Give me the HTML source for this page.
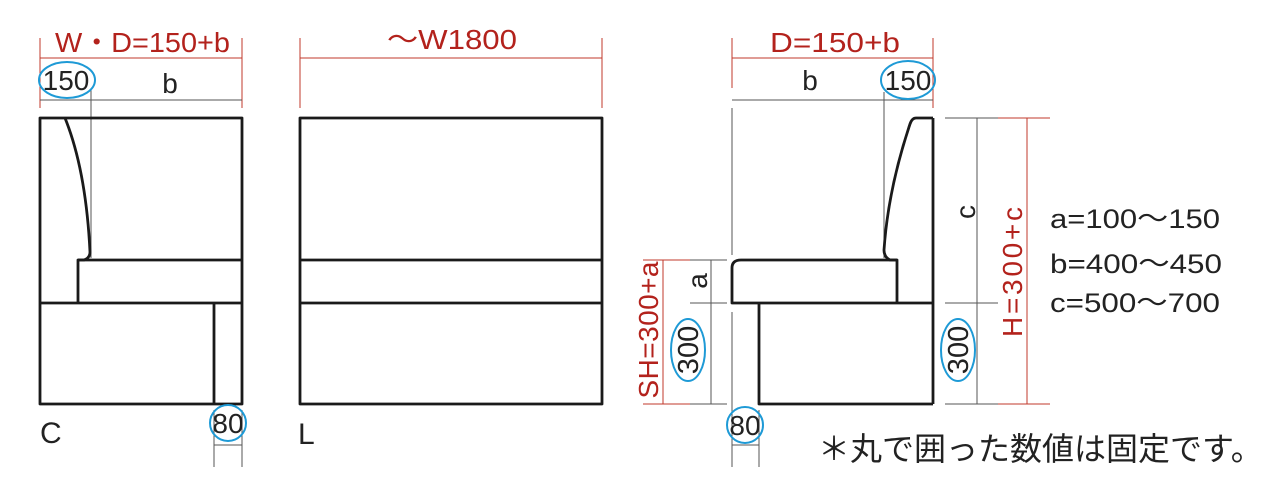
<!DOCTYPE html>
<html><head><meta charset="utf-8"><style>
html,body{margin:0;padding:0;background:#fff;width:1280px;height:492px;overflow:hidden}
svg{display:block}
text{font-family:"Liberation Sans",Arial,sans-serif}
</style></head><body>
<svg width="1280" height="492" viewBox="0 0 1280 492" xmlns="http://www.w3.org/2000/svg">
<g stroke="#c0392b" stroke-width="1" fill="none">
  <line x1="40" y1="58" x2="242" y2="58"/><line x1="40" y1="38" x2="40" y2="108"/><line x1="242" y1="38" x2="242" y2="108"/>
  <line x1="300" y1="58" x2="602" y2="58"/><line x1="300" y1="38" x2="300" y2="108"/><line x1="602" y1="38" x2="602" y2="108"/>
  <line x1="732" y1="58" x2="933" y2="58"/><line x1="732" y1="38" x2="732" y2="88"/><line x1="933" y1="38" x2="933" y2="108"/>
  <line x1="663" y1="260" x2="663" y2="404"/><line x1="643" y1="260" x2="690" y2="260"/><line x1="643" y1="404" x2="690" y2="404"/>
  <line x1="1027" y1="118" x2="1027" y2="404"/><line x1="998" y1="118" x2="1050" y2="118"/><line x1="998" y1="404" x2="1050" y2="404"/>
</g>
<g fill="#b3221c" font-size="28">
  <text x="55" y="52" textLength="175" lengthAdjust="spacingAndGlyphs">W・D=150+b</text>
  <text x="387" y="49" textLength="130" lengthAdjust="spacingAndGlyphs">〜W1800</text>
  <text x="770" y="52" textLength="130" lengthAdjust="spacingAndGlyphs">D=150+b</text>
  <text transform="translate(658,330) rotate(-90)" text-anchor="middle" textLength="137">SH=300+a</text>
  <text transform="translate(1022,272) rotate(-90)" text-anchor="middle" textLength="130">H=300+c</text>
</g>
<g stroke="#555" stroke-width="1" fill="none">
  <line x1="40" y1="100" x2="242" y2="100"/><line x1="91" y1="90" x2="91" y2="258"/>
  <line x1="732" y1="100" x2="933" y2="100"/><line x1="884" y1="92" x2="884" y2="258"/><line x1="732" y1="108" x2="732" y2="255"/><line x1="732" y1="312" x2="732" y2="467"/>
  <line x1="214" y1="410" x2="214" y2="467"/><line x1="242" y1="410" x2="242" y2="467"/><line x1="214" y1="445" x2="242" y2="445"/>
  <line x1="759" y1="410" x2="759" y2="467"/><line x1="732" y1="445" x2="759" y2="445"/>
  <line x1="711" y1="260" x2="711" y2="404"/><line x1="690" y1="260" x2="727" y2="260"/><line x1="690" y1="303" x2="727" y2="303"/><line x1="690" y1="404" x2="727" y2="404"/>
  <line x1="977" y1="118" x2="977" y2="404"/><line x1="945" y1="118" x2="998" y2="118"/><line x1="945" y1="303" x2="998" y2="303"/><line x1="945" y1="404" x2="998" y2="404"/>
</g>
<g stroke="#1a1a1a" stroke-width="2.8" fill="none" stroke-linejoin="round">
  <rect x="40" y="118" width="202" height="286"/>
  <path d="M65 118 Q86 170 90 252 Q90 258 84 260 L78 260 L78 303"/>
  <line x1="78" y1="260" x2="242" y2="260"/>
  <line x1="40" y1="303" x2="242" y2="303"/>
  <line x1="214" y1="303" x2="214" y2="404"/>
  <rect x="300" y="118" width="302" height="286"/>
  <line x1="300" y1="260" x2="602" y2="260"/><line x1="300" y1="303" x2="602" y2="303"/>
  <path d="M933 118 L916 118 Q912 118 910 124 Q888 190 884 250 Q884 257 890 260 L897 260 L897 303"/>
  <line x1="933" y1="118" x2="933" y2="404"/>
  <path d="M897 260 L741 260 Q732 260 732 268 L732 303 L933 303"/>
  <path d="M759 303 L759 404 L933 404"/>
</g>
<g fill="#222" font-size="28">
  <text x="66" y="90" text-anchor="middle">150</text>
  <text x="170" y="93" text-anchor="middle">b</text>
  <text x="810" y="90" text-anchor="middle">b</text>
  <text x="908" y="90" text-anchor="middle">150</text>
  <text x="228" y="433" text-anchor="middle">80</text>
  <text x="745" y="435" text-anchor="middle">80</text>
  <text x="40" y="443" font-size="30">C</text>
  <text x="298" y="444" font-size="30">L</text>
  <text transform="translate(707,281) rotate(-90)" text-anchor="middle">a</text>
  <text transform="translate(975,212) rotate(-90)" text-anchor="middle">c</text>
  <text transform="translate(698,350) rotate(-90)" text-anchor="middle" font-size="29">300</text>
  <text transform="translate(968,350) rotate(-90)" text-anchor="middle" font-size="29">300</text>
  <text x="1050" y="228" font-size="27" textLength="170" lengthAdjust="spacingAndGlyphs">a=100〜150</text>
  <text x="1050" y="273" font-size="27" textLength="172" lengthAdjust="spacingAndGlyphs">b=400〜450</text>
  <text x="1050" y="312" font-size="27" textLength="170" lengthAdjust="spacingAndGlyphs">c=500〜700</text>
  <text x="818" y="460" font-size="32" style="font-family:'Liberation Sans','Noto Sans CJK JP',sans-serif">＊丸で囲った数値は固定です。</text>
</g>
<g stroke="#1e9ad6" stroke-width="2" fill="none">
  <ellipse cx="67" cy="80" rx="28" ry="18"/>
  <ellipse cx="908" cy="80" rx="27" ry="19"/>
  <ellipse cx="228" cy="423" rx="18" ry="18"/>
  <ellipse cx="745" cy="425" rx="18" ry="18"/>
  <ellipse cx="688" cy="350" rx="17" ry="31"/>
  <ellipse cx="958" cy="350" rx="17" ry="31"/>
</g>
</svg>
</body></html>
